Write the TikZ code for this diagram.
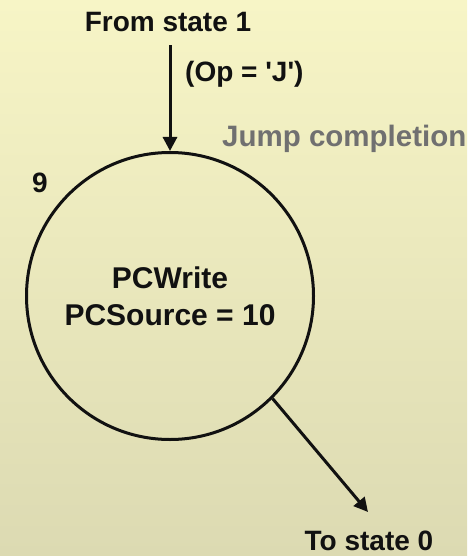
\documentclass[tikz,border=0pt]{standalone}
\usepackage{fontspec}
\setmainfont{Liberation Sans}
\usetikzlibrary{arrows.meta}
\definecolor{bgtop}{RGB}{247,245,198}
\definecolor{bgbot}{RGB}{220,218,178}
\definecolor{ink}{RGB}{17,17,17}
\definecolor{notegray}{RGB}{112,112,112}
\tikzset{
  lbl/.style={font=\bfseries\fontsize{28}{32}\selectfont, text=ink, inner sep=0pt},
  statecircle/.style={circle, draw=ink, line width=3pt, minimum size=287pt, inner sep=0pt,
    align=center, font=\bfseries\fontsize{30}{37}\selectfont, text=ink},
  flow/.style={draw=ink, line width=3pt, -{Triangle[length=14pt,width=14pt]}}
}
\begin{document}
\begin{tikzpicture}[x=1pt,y=-1pt]
  % background
  \fill[top color=bgtop, bottom color=bgbot] (0,0) rectangle (467,556);
  \useasboundingbox (0,0) rectangle (467,556);

  % state 9
  \node[statecircle] (st) at (170,296) {PCWrite\\PCSource = 10};
  \node[lbl, anchor=base] (num) at (40,192) {9};
  \node[lbl, anchor=base west, text=notegray, font=\bfseries\fontsize{29.5}{34}\selectfont] (note) at (222,147) {Jump completion};

  % incoming transition
  \node[lbl, anchor=base, inner ysep=13pt] (from) at (168,32) {From state 1};
  \node[lbl, anchor=base west] (cond) at (185,82) {(Op = \textquotesingle J\textquotesingle)};
  \draw[flow] (from.south -| st.north) -- (st.north);

  % outgoing transition
  \node[lbl, anchor=base, inner ysep=18pt] (to) at (369,550) {To state 0};
  \coordinate (tip) at (368,512);
  \draw[flow] (st.-45) -- (tip);
\end{tikzpicture}
\end{document}
